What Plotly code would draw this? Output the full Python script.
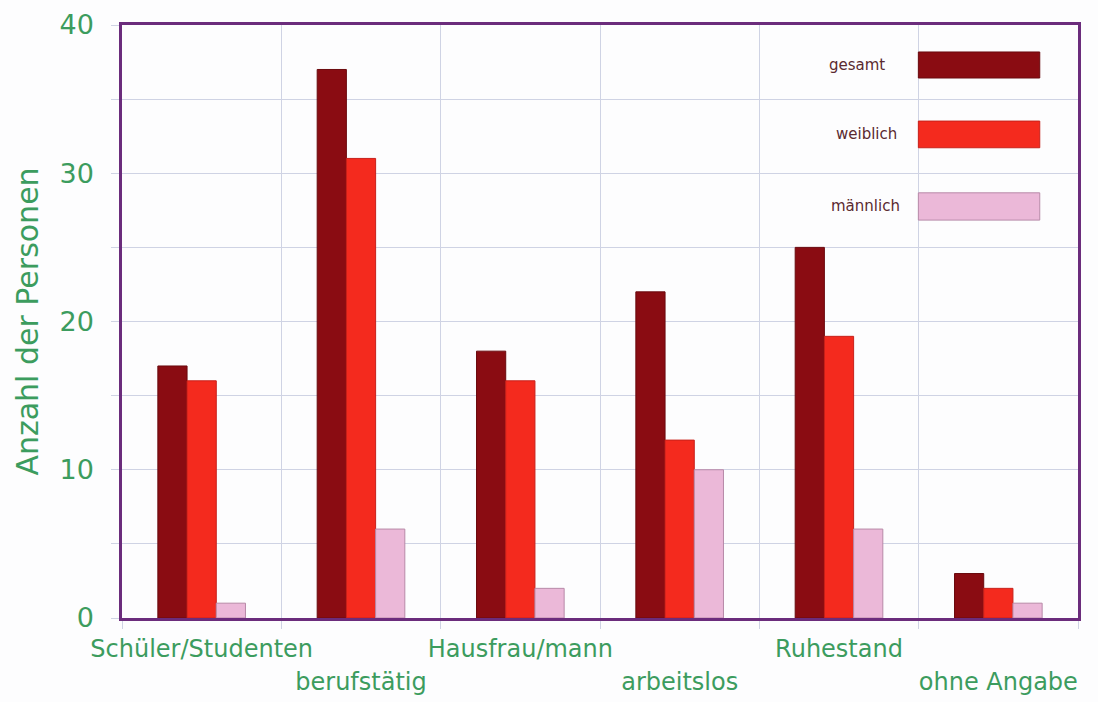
import plotly.graph_objects as go

categories = ["Schüler/Studenten", "berufstätig", "Hausfrau/mann", "arbeitslos", "Ruhestand", "ohne Angabe"]
gesamt = [17, 37, 18, 22, 25, 3]
weiblich = [16, 31, 16, 12, 19, 2]
maennlich = [1, 6, 2, 10, 6, 1]
series_names = ["gesamt", "weiblich", "männlich"]
y_ticks = [0, 10, 20, 30, 40]

colors = ["#8a0c12", "#f42a1e", "#ebb8d8"]
line_colors = ["#6a0a0e", "#c8201a", "#b88aa8"]
green = "#3c9c5e"
purple = "#6b2c7c"
grid = "#cfd3e4"
font = "DejaVu Sans"

xs = list(range(len(categories)))
fig = go.Figure()
for name, vals, c, lc in zip(series_names, [gesamt, weiblich, maennlich], colors, line_colors):
    fig.add_trace(go.Bar(x=xs, y=vals, name=name, marker=dict(color=c, line=dict(color=lc, width=1)),
                         showlegend=False))

boundaries = [i + 0.5 for i in range(-1, len(categories))]
even = [i for i in xs if i % 2 == 0]
odd = [i for i in xs if i % 2 == 1]

# invisible helper traces so the two label axes are drawn
fig.add_trace(go.Scatter(x=even, y=[0] * len(even), xaxis="x2", mode="markers",
                         marker=dict(opacity=0), hoverinfo="skip", showlegend=False))
fig.add_trace(go.Scatter(x=odd, y=[0] * len(odd), xaxis="x3", mode="markers",
                         marker=dict(opacity=0), hoverinfo="skip", showlegend=False))

label_font = dict(size=24, color=green, family=font)
fig.update_layout(
    width=1098, height=702,
    margin=dict(l=122, r=20, t=25, b=84),
    paper_bgcolor="#fdfdfe", plot_bgcolor="#fdfdfe",
    barmode="group", bargap=0.45, bargroupgap=0,
    font=dict(family=font, color=green),
    xaxis=dict(range=[-0.5, 5.5], tickvals=boundaries, ticktext=[""] * len(boundaries),
               showgrid=True, gridcolor=grid, gridwidth=1, automargin=False,
               showline=True, linecolor=purple, linewidth=2.5, mirror=True,
               ticks="outside", ticklen=8, tickcolor=grid, zeroline=False),
    xaxis2=dict(range=[-0.5, 5.5], overlaying="x", anchor="y", side="bottom", automargin=False,
                tickvals=even, ticktext=[categories[i] for i in even],
                showgrid=False, showline=False, ticks="", zeroline=False,
                ticklabelstandoff=14, tickfont=label_font),
    xaxis3=dict(range=[-0.5, 5.5], overlaying="x", anchor="y", side="bottom", automargin=False,
                tickvals=odd, ticktext=[categories[i] for i in odd],
                showgrid=False, showline=False, ticks="", zeroline=False,
                ticklabelstandoff=47, tickfont=label_font),
    yaxis=dict(range=[0, 40], tickvals=y_ticks, showgrid=True, gridcolor=grid, gridwidth=1,
               showline=True, linecolor=purple, linewidth=2.5, mirror=True, automargin=False,
               ticks="outside", ticklen=8, tickcolor=grid, zeroline=False,
               minor=dict(dtick=5, showgrid=True, gridcolor=grid, ticks="outside", ticklen=8, tickcolor=grid),
               tickfont=dict(size=27, color=green, family=font), ticklabelstandoff=12,
               title=dict(text="Anzahl der Personen", font=dict(size=30, color=green, family=font), standoff=12)),
)

# legend drawn as swatches inside the plot area
leg_y = [(0.9545, 0.9106), (0.838, 0.793), (0.717, 0.671)]
text_x = [0.769, 0.779, 0.778]
for name, c, lc, (y1, y0), tx in zip(series_names, colors, line_colors, leg_y, text_x):
    fig.add_shape(type="rect", xref="paper", yref="paper", x0=0.833, x1=0.960, y0=y0, y1=y1,
                  fillcolor=c, line=dict(color=lc, width=1))
    fig.add_annotation(xref="paper", yref="paper", x=tx, y=(y0 + y1) / 2, text=name, showarrow=False,
                       font=dict(size=15, color="#5a2a30", family=font), xanchor="center", yanchor="middle")

fig.write_html("out.html")
